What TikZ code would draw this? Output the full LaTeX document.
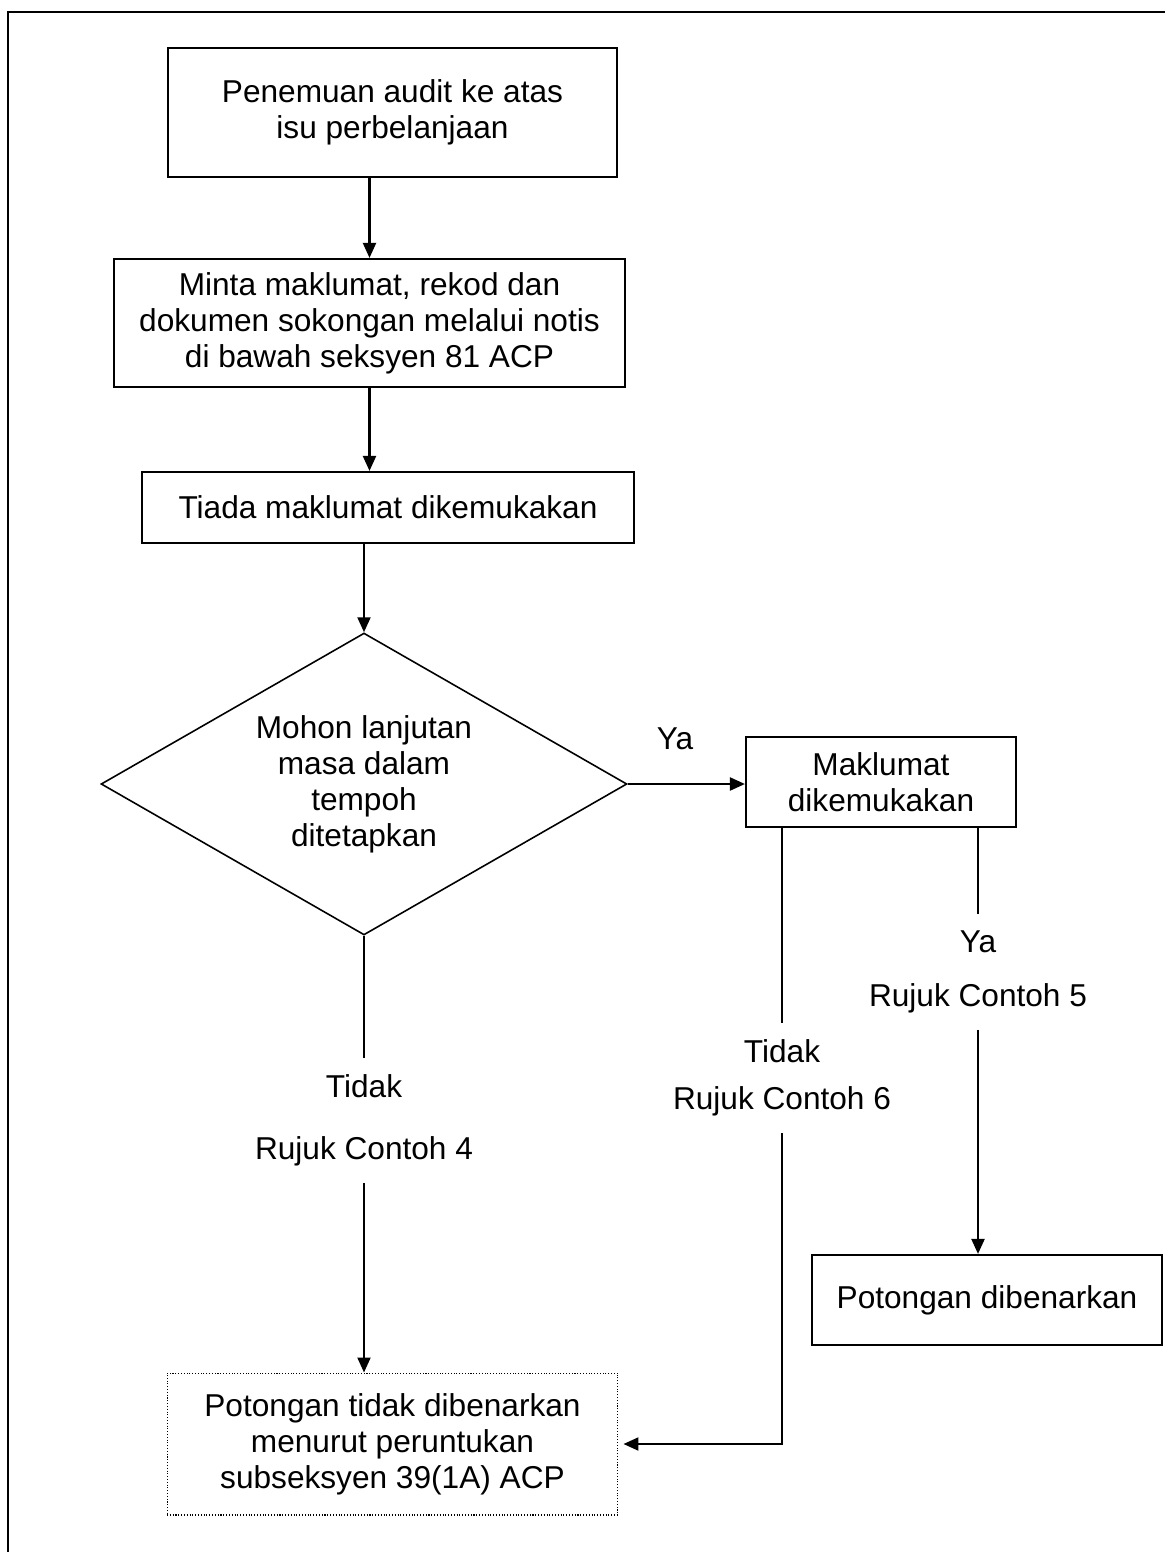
\documentclass[tikz,border=0pt]{standalone}
\usepackage{fontspec}
\setmainfont{Liberation Sans}
\usetikzlibrary{shapes.geometric,arrows.meta}

\begin{document}
\begin{tikzpicture}[x=0.02cm,y=-0.02cm]
    \tikzstyle{every node}=[font=\fontsize{18}{20.5}\selectfont, align=center]
    \tikzstyle{stepbox}=[draw, line width=1.25pt, inner sep=0pt]
    \tikzstyle{lbl}=[inner xsep=0pt, inner ysep=0.32cm]
    \tikzstyle{ln}=[line width=1.25pt]
    \tikzstyle{arr}=[line width=1.25pt, -{Triangle[length=0.3cm,width=0.26cm]}]

    \useasboundingbox (0,0) rectangle (1165,1552);

    % page frame
    \draw[line width=1.25pt] (1165,12) -- (8,12) -- (8,1552);

    % process boxes
    \node[stepbox, minimum width=8.98cm, minimum height=2.58cm] (audit) at (392.5,112.5) {Penemuan audit ke atas\\isu perbelanjaan};
    \node[stepbox, minimum width=10.22cm, minimum height=2.56cm] (notis) at (369.5,323) {Minta maklumat, rekod dan\\dokumen sokongan melalui notis\\di bawah seksyen 81 ACP};
    \node[stepbox, minimum width=9.84cm, minimum height=1.42cm] (tiada) at (388,507.5) {Tiada maklumat dikemukakan};
    \node[draw, line width=0.9pt, shape=diamond, shape aspect=1.74, inner sep=0pt, minimum width=10.52cm, minimum height=6.04cm] (mohon) at (364,784) {Mohon lanjutan\\masa dalam\\tempoh\\ditetapkan};
    \node[stepbox, minimum width=5.4cm, minimum height=1.8cm] (maklumat) at (881,782) {Maklumat\\dikemukakan};
    \node[stepbox, minimum width=7cm, minimum height=1.8cm] (benar) at (987,1300) {Potongan dibenarkan};
    \node[draw, densely dotted, line width=0.6pt, inner sep=0pt, minimum width=9.02cm, minimum height=2.84cm] (tolak) at (392.5,1444) {Potongan tidak dibenarkan\\menurut peruntukan\\subseksyen 39(1A) ACP};

    % branch labels
    \node (yaA) at (675,739) {Ya};
    \node[lbl] (tidakA) at (364,1086.4) {Tidak};
    \node[lbl] (rujukA) at (364,1151.7) {Rujuk Contoh 4};
    \node[lbl] (tidakB) at (782,1051.4) {Tidak};
    \node[lbl] (rujukB) at (782,1101.7) {Rujuk Contoh 6};
    \node[lbl] (yaB) at (978,941.4) {Ya};
    \node[lbl] (rujukC) at (978,998.7) {Rujuk Contoh 5};

    % main flow
    \draw[arr] (audit.south -| notis.north) -- (notis.north);
    \draw[arr] (notis.south) -- (notis.south |- tiada.north);
    \draw[arr] (tiada.south -| mohon.north) -- (mohon.north);
    \draw[arr] (mohon.east) -- (mohon.east -| maklumat.west);

    % Tidak branch from decision
    \draw[ln] (mohon.south) -- (tidakA.north);
    \draw[arr] (rujukA.south) -- (rujukA.south |- tolak.north);

    % branches from Maklumat dikemukakan
    \draw[ln] (maklumat.south -| tidakB.north) -- (tidakB.north);
    \draw[arr, shorten >=0.1cm] (rujukB.south) -- (rujukB.south |- tolak.east) -- (tolak.east);
    \draw[ln] (maklumat.south -| yaB.north) -- (yaB.north);
    \draw[arr] (rujukC.south) -- (rujukC.south |- benar.north);

\end{tikzpicture}
\end{document}
